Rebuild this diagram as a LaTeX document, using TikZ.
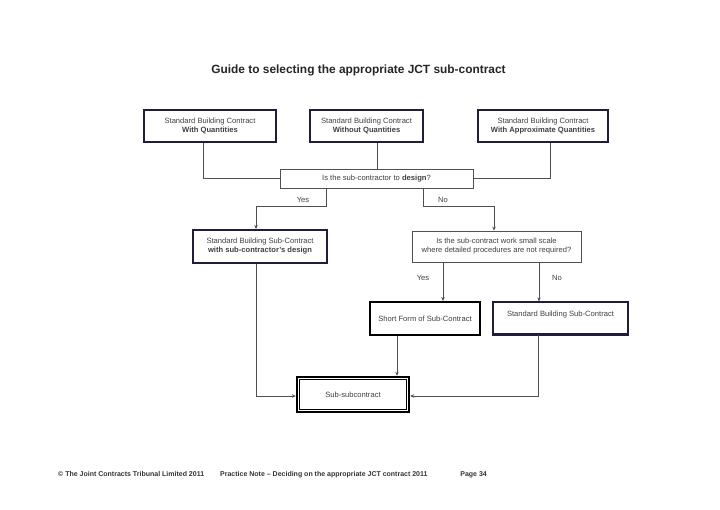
\documentclass[tikz,border=0pt]{standalone}
\usepackage{fontspec}
\setmainfont{Liberation Sans}
\usetikzlibrary{arrows.meta,calc}
\definecolor{navy}{HTML}{1E1E3C}
\definecolor{conn}{HTML}{505050}
\definecolor{txt}{HTML}{404040}
\tikzset{
  box/.style={draw=navy, line width=1.6pt, fill=white, align=center, inner sep=0pt, text=txt, font=\fontsize{7.6}{9}\selectfont},
  qbox/.style={draw=conn, line width=0.8pt, fill=white, align=center, inner sep=0pt, text=txt, font=\fontsize{7.6}{9}\selectfont},
  conn/.style={draw=conn, line width=0.9pt},
  arr/.style={conn, -{Stealth[length=4pt,width=3.5pt]}},
  lbl/.style={text=txt, font=\fontsize{7.6}{9}\selectfont, inner sep=0pt},
  foot/.style={font=\bfseries\fontsize{7}{8}\selectfont, text=black!80, inner sep=0pt},
}
\begin{document}
\begin{tikzpicture}[x=1pt,y=-1pt]
\useasboundingbox[fill=white] (0,0) rectangle (720,509);
\node[font=\bfseries\fontsize{11.9}{14}\selectfont, text=black!85] (title) at (358.5,70) {Guide to selecting the appropriate JCT sub-contract};

\node[box, minimum width=132pt, minimum height=32pt] (tl) at (210,126) {Standard Building Contract\\\textbf{With Quantities}};
\node[box, minimum width=113pt, minimum height=32pt] (tm) at (366.5,126) {Standard Building Contract\\\textbf{Without Quantities}};
\node[box, minimum width=130pt, minimum height=32pt] (tr) at (543,126) {Standard Building Contract\\\textbf{With Approximate Quantities}};

\node[qbox, minimum width=193pt, minimum height=19pt] (d1) at (376.5,178.5) {Is the sub-contractor to \textbf{design}?};

\node[box, line width=2pt, minimum width=134pt, minimum height=33pt] (des) at (260,246.5) {Standard Building Sub-Contract\\\textbf{with sub-contractor's design}};
\node[qbox, minimum width=169pt, minimum height=31pt] (d2) at (496.5,246.5) {Is the sub-contract work small scale\\where detailed procedures are not required?};

\node[box, draw=black, line width=2pt, minimum width=110pt, minimum height=33pt] (sf) at (425,318.5) {Short Form of Sub-Contract};
\node[box, line width=1.2pt, minimum width=135pt, minimum height=32pt, text depth=8pt] (sb) at (560.5,318) {Standard Building Sub-Contract};
\draw[navy, line width=2.2pt] (sb.south west) -- (sb.south east);

\node[box, draw=black, line width=2.4pt, minimum width=112pt, minimum height=35pt] (ss) at (353,394.5) {Sub-subcontract};
\draw[black, line width=0.7pt] ($(ss.south west)+(3.5,-3.5)$) rectangle ($(ss.north east)+(-3.5,3.5)$);

% connectors from top boxes
\draw[conn] ([xshift=-7pt]tl.south) |- (d1.west);
\draw[conn] ([xshift=10.5pt]tm.south) -- ([xshift=10.5pt]tm.south |- d1.north);
\draw[conn] ([xshift=7pt]tr.south) |- (d1.east);

% from d1
\coordinate (yb) at ([xshift=-50.5pt]d1.south);
\coordinate (nb) at ([xshift=46.5pt]d1.south);
\draw[arr] (yb) -- ++(0,18.5) -| ([xshift=-4pt]des.north);
\draw[arr] (nb) -- ++(0,18.5) -| ([xshift=-2.5pt]d2.north);
\node[lbl] (yes1) at (303,200) {Yes};
\node[lbl] (no1) at (443,200) {No};

% from d2
\draw[arr] ([xshift=-53.5pt]d2.south) -- ([xshift=-53.5pt]d2.south |- sf.north);
\draw[arr] ([xshift=42.5pt]d2.south) -- ([xshift=42.5pt]d2.south |- sb.north);
\node[lbl] (yes2) at (423,278) {Yes};
\node[lbl] (no2) at (557,278) {No};

% to sub-subcontract
\draw[arr] ([xshift=-28pt]sf.south) -- ([xshift=-28pt]sf.south |- ss.north);
\draw[arr] ([xshift=-4pt]des.south) |- ([yshift=-1.5pt]ss.west);
\draw[arr] ([xshift=-22.5pt]sb.south) |- ([yshift=-1.5pt]ss.east);

% footer
\node[foot, anchor=base west] (f1) at (58,476.5) {© The Joint Contracts Tribunal Limited 2011};
\node[foot, anchor=base west] (f2) at (220,476.5) {Practice Note – Deciding on the appropriate JCT contract 2011};
\node[foot, anchor=base east] (f3) at (487,476.5) {Page 34};
\end{tikzpicture}
\end{document}
